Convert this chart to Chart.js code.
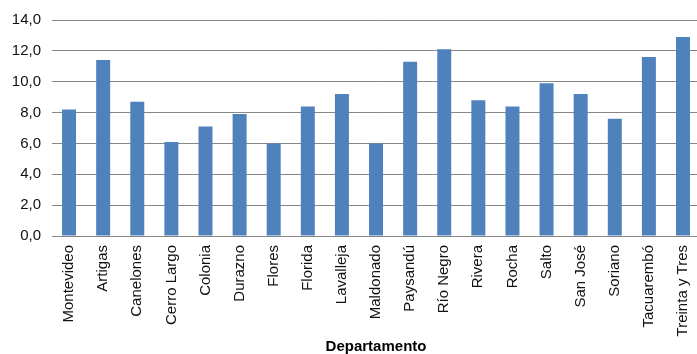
<!DOCTYPE html>
<html lang="es">
<head>
<meta charset="utf-8">
<title>Departamentos</title>
<script src="https://cdn.jsdelivr.net/npm/chart.js@4/dist/chart.umd.min.js"></script>
<style>
    html, body { margin: 0; padding: 0; background: #fff; overflow: hidden; }
    #wrap { width: 710px; height: 354px; position: relative; }
</style>
</head>
<body>
<div id="wrap"><canvas id="chart"></canvas></div>
<script>
// Departamentos y valores de la serie
const departamentos = [
    'Montevideo', 'Artigas', 'Canelones', 'Cerro Largo', 'Colonia', 'Durazno',
    'Flores', 'Florida', 'Lavalleja', 'Maldonado', 'Paysandú', 'Río Negro',
    'Rivera', 'Rocha', 'Salto', 'San José', 'Soriano', 'Tacuarembó', 'Treinta y Tres'
];
const valores = [
    8.2, 11.4, 8.7, 6.1, 7.1, 7.9,
    6.0, 8.4, 9.2, 6.0, 11.3, 12.1,
    8.8, 8.4, 9.9, 9.2, 7.6, 11.6, 12.9
];
const yMax = 14;
const yStep = 2;
const tituloEjeX = 'Departamento';

const gridColor = '#878787';
const barColor = '#4f81bd';
const fontFamily = '"Liberation Sans", Arial, sans-serif';

document.addEventListener('DOMContentLoaded', () => {
    const ctx = document.getElementById('chart').getContext('2d');

    new Chart(ctx, {
        type: 'bar',
        data: {
            labels: departamentos,
            datasets: [{
                data: valores,
                backgroundColor: barColor,
                borderWidth: 0,
                barPercentage: 0.41,
                categoryPercentage: 1
            }]
        },
        options: {
            responsive: true,
            maintainAspectRatio: false,
            animation: false,
            layout: { padding: { left: 12, top: 18, right: 0, bottom: 0 } },
            plugins: {
                legend: { display: false },
                tooltip: { enabled: false }
            },
            scales: {
                x: {
                    // alto fijo: eje en y=236, etiquetas verticales y título debajo
                    afterFit: scale => { scale.height = 118; },
                    grid: { display: false, drawTicks: false },
                    border: { display: true, color: gridColor, width: 1 },
                    ticks: {
                        color: '#111',
                        font: { family: fontFamily, size: 15 },
                        minRotation: 90,
                        maxRotation: 90,
                        autoSkip: false,
                        padding: 9
                    },
                    title: {
                        display: true,
                        text: tituloEjeX,
                        color: '#000',
                        font: { family: fontFamily, size: 15, weight: 'bold', lineHeight: 1 },
                        padding: { top: 0, bottom: 0 }
                    }
                },
                y: {
                    min: 0,
                    max: yMax,
                    afterFit: scale => { scale.width = 40; },
                    grid: { color: gridColor, lineWidth: 1, drawTicks: false },
                    border: { display: false },
                    ticks: {
                        stepSize: yStep,
                        color: '#111',
                        font: { family: fontFamily, size: 15 },
                        padding: 11,
                        callback: v => v.toFixed(1).replace('.', ',')
                    }
                }
            }
        }
    });
});
</script>
</body>
</html>
